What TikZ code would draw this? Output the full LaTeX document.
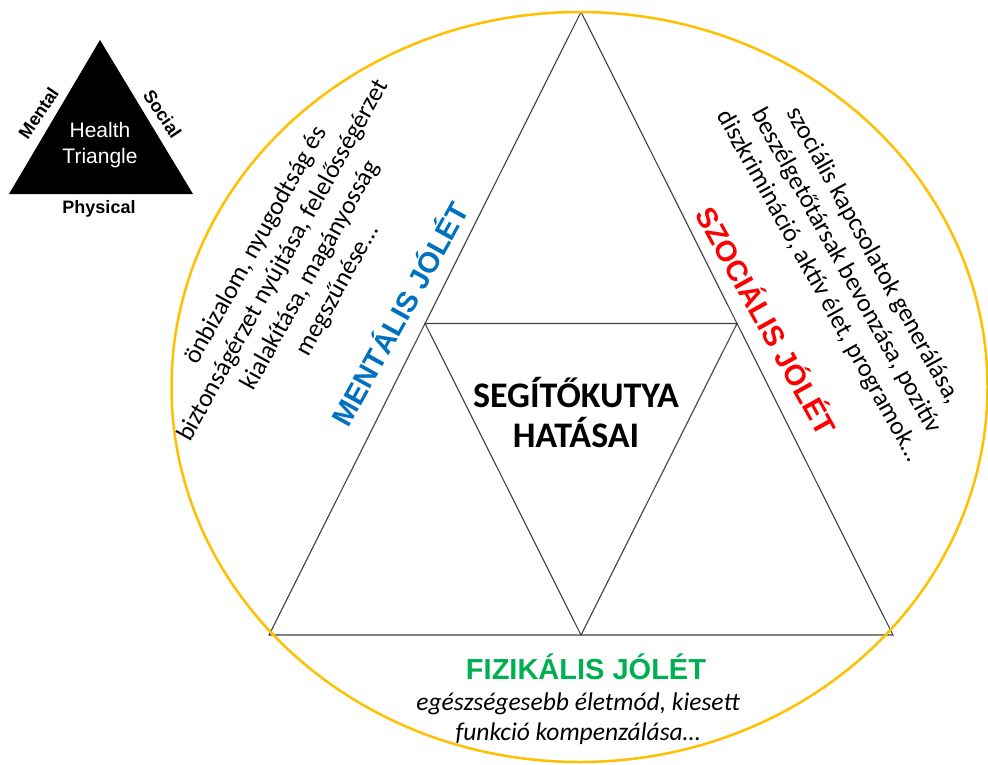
\documentclass[tikz,border=0pt]{standalone}
\usepackage{fontspec}
\setmainfont{Carlito}
\newfontfamily\arialf{Liberation Sans}
\definecolor{ringc}{HTML}{FFC000}
\definecolor{mentc}{HTML}{0070C0}
\definecolor{szocc}{HTML}{FF0000}
\definecolor{fizc}{HTML}{00B050}
\definecolor{linec}{HTML}{404040}
\begin{document}
\begin{tikzpicture}[x=1pt,y=-1pt,
  tri/.style={draw=linec, line width=1.1pt, line join=miter},
  heading/.style={font=\arialf\bfseries\fontsize{29}{34}\selectfont, inner sep=0pt},
  sidetext/.style={font=\fontsize{25.5}{31}\selectfont, align=center, inner sep=0pt, text=black},
  smalllabel/.style={font=\arialf\bfseries\fontsize{18}{20}\selectfont, inner sep=0pt}]
\useasboundingbox (0,0) rectangle (988,764);
\fill[white] (0,0) rectangle (988,764);
% big triangle
\coordinate (A) at (581,12);
\coordinate (BL) at (269,635);
\coordinate (BR) at (893,635);
\coordinate (ML) at (425,323.5);
\coordinate (MR) at (737,323.5);
\coordinate (MB) at (581,635);
\draw[tri] (A) -- (BL) -- (BR) -- cycle;
\draw[tri] (ML) -- (MR) -- (MB) -- cycle;
% ring
\coordinate (C) at (579.5,387);
\draw[ringc, line width=2.5pt] (C) ellipse [x radius=408pt, y radius=375pt];
% centre text
\node[font=\bfseries\fontsize{36}{40}\selectfont, align=center, inner sep=0pt] (center) at (576,412) {SEGÍTŐKUTYA\\HATÁSAI};
% headings
\node[heading, text=mentc, rotate=61] (ment) at (398,313) {MENTÁLIS JÓLÉT};
\node[heading, text=szocc, rotate=-61] (szoc) at (768,320) {SZOCIÁLIS JÓLÉT};
\node[heading, text=fizc] (fiz) at (586,667) {FIZIKÁLIS JÓLÉT};
% side texts
\node[sidetext, rotate=61] (menttext) at (297,268) {önbizalom, nyugodtság és\\biztonságérzet nyújtása, felelősségérzet\\kialakítása, magányosság\\megszűnése…};
\node[sidetext, rotate=-61] (szoctext) at (846,271) {szociális kapcsolatok generálása,\\beszélgetőtársak bevonzása, pozitív\\diszkrimináció, aktív élet, programok…};
\node[font=\itshape\fontsize{25.5}{30}\selectfont, align=center, inner sep=0pt] (fiztext) at (578,719) {egészségesebb életmód, kiesett\\funkció kompenzálása…};
% health triangle
\coordinate (hA) at (100,40);
\coordinate (hL) at (9,194);
\coordinate (hR) at (193,194);
\fill[black] (hA) -- (hL) -- (hR) -- cycle;
\node[font=\arialf\fontsize{21}{26}\selectfont, text=white, align=center, inner sep=0pt] (health) at (100,145) {Health\\Triangle};
\node[smalllabel] (phys) at (99,209) {Physical};
\node[smalllabel, rotate=56] (mental) at (38.5,113) {Mental};
\node[smalllabel, rotate=-56] (social) at (162.5,114) {Social};
\end{tikzpicture}
\end{document}
